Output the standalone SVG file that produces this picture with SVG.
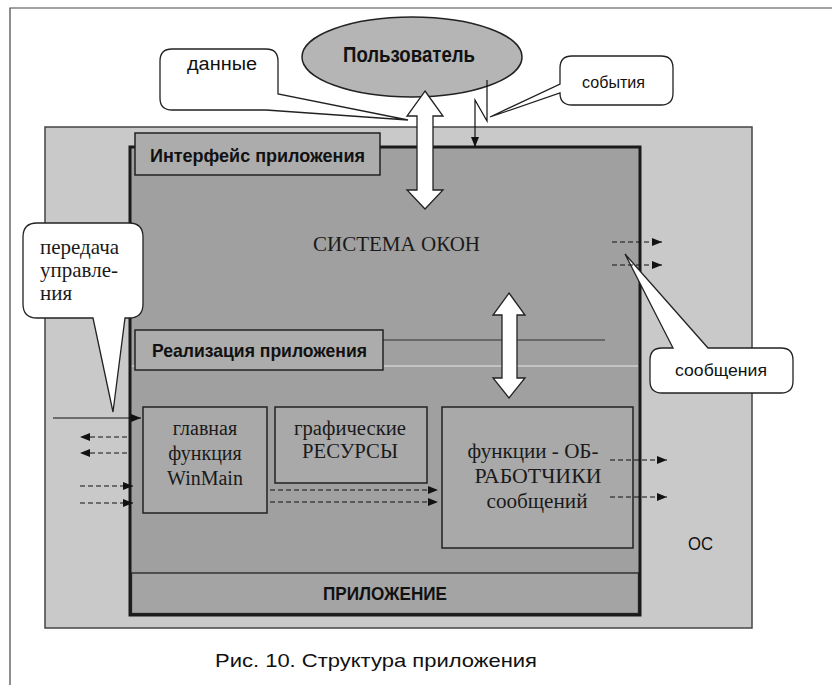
<svg xmlns="http://www.w3.org/2000/svg" width="832" height="685" viewBox="0 0 832 685">
<style>
.sans{font-family:"Liberation Sans",Arial,sans-serif;fill:#111}
.bold{font-weight:bold}
.serif{font-family:"Liberation Serif","Times New Roman",serif;fill:#1a1a1a}
.callout{fill:#fff;stroke:#222;stroke-width:1.3}
.box{fill:#a9a9a9;stroke:#222;stroke-width:1.5}
.dash{fill:none;stroke:#111;stroke-width:1.2;stroke-dasharray:5 3}
.solid{fill:none;stroke:#111;stroke-width:1.2}
.big{fill:#fff;stroke:#222;stroke-width:1.3}
</style>
<defs>
<marker id="ah" viewBox="0 0 10 8" refX="10" refY="4" markerWidth="10" markerHeight="8" markerUnits="userSpaceOnUse" orient="auto">
<path d="M0,0 L10,4 L0,8 Z" fill="#111"/>
</marker>
</defs>
<rect width="832" height="685" fill="#fff"/>
<path d="M10,685 V8 H832" fill="none" stroke="#444" stroke-width="1.2"/>

<g id="os">
<rect x="45" y="127" width="707" height="501" fill="#c9c9c9" stroke="#444" stroke-width="1.5"/>
<text class="sans" x="688" y="550" font-size="19" textLength="25" lengthAdjust="spacingAndGlyphs">ОС</text>
</g>

<g id="app">
<rect x="130" y="147" width="510" height="468" fill="#a0a0a0" stroke="#1a1a1a" stroke-width="3"/>
<line x1="383" y1="340" x2="605" y2="340" stroke="#333" stroke-width="1"/>
<line x1="132" y1="366" x2="638" y2="366" stroke="#e6e6e6" stroke-width="1"/>
<rect x="131.5" y="573" width="507" height="40.5" fill="#a4a4a4" stroke="#222" stroke-width="1.3"/>
<text class="sans bold" x="323" y="600" font-size="19" textLength="124" lengthAdjust="spacingAndGlyphs">ПРИЛОЖЕНИЕ</text>
<text class="serif" x="313" y="251" font-size="22" textLength="167" lengthAdjust="spacingAndGlyphs">СИСТЕМА ОКОН</text>
</g>

<g id="interface">
<rect x="135" y="133" width="245" height="42" fill="#acacac" stroke="#222" stroke-width="1.5"/>
<text class="sans bold" x="150" y="162" font-size="19" textLength="215" lengthAdjust="spacingAndGlyphs">Интерфейс приложения</text>
</g>

<g id="realization">
<rect x="135" y="330" width="248" height="40" fill="#acacac" stroke="#222" stroke-width="1.5"/>
<text class="sans bold" x="152" y="357" font-size="19" textLength="215" lengthAdjust="spacingAndGlyphs">Реализация приложения</text>
</g>

<g id="winmain">
<rect x="143" y="407" width="124" height="106" class="box"/>
<text class="serif" x="205" y="435" font-size="20" text-anchor="middle">главная</text>
<text class="serif" x="205" y="460" font-size="20" text-anchor="middle">функция</text>
<text class="serif" x="205" y="485" font-size="20" text-anchor="middle">WinMain</text>
</g>

<g id="resources">
<rect x="275" y="407" width="152" height="76" class="box"/>
<text class="serif" x="350" y="435" font-size="20" text-anchor="middle" textLength="112" lengthAdjust="spacingAndGlyphs">графические</text>
<text class="serif" x="350" y="458" font-size="20" text-anchor="middle" textLength="96" lengthAdjust="spacingAndGlyphs">РЕСУРСЫ</text>
</g>

<g id="handlers">
<rect x="442" y="407" width="191" height="141" class="box"/>
<text class="serif" x="533" y="458" font-size="20" text-anchor="middle" textLength="131" lengthAdjust="spacingAndGlyphs">функции - ОБ-</text>
<text class="serif" x="538" y="483" font-size="20" text-anchor="middle" textLength="127" lengthAdjust="spacingAndGlyphs">РАБОТЧИКИ</text>
<text class="serif" x="537" y="508" font-size="20" text-anchor="middle" textLength="101" lengthAdjust="spacingAndGlyphs">сообщений</text>
</g>

<g id="user">
<ellipse cx="412" cy="57" rx="110" ry="40" fill="#b5b5b5" stroke="#222" stroke-width="1.5"/>
<text class="sans bold" x="343" y="62" font-size="22" textLength="132" lengthAdjust="spacingAndGlyphs">Пользователь</text>
</g>

<g id="callout-data">
<path class="callout" d="M172,49 H266 Q278,49 278,61 V94 L408,120 L266,110 H172 Q160,110 160,98 V61 Q160,49 172,49 Z"/>
<text class="sans" x="187" y="70" font-size="18" textLength="70" lengthAdjust="spacingAndGlyphs">данные</text>
</g>

<g id="callout-events">
<path class="callout" d="M572,56 H661 Q673,56 673,68 V93 Q673,105 661,105 H572 Q560,105 560,93 L490,117 L560,84 V68 Q560,56 572,56 Z"/>
<text class="sans" x="582" y="88" font-size="17" textLength="63" lengthAdjust="spacingAndGlyphs">события</text>
</g>

<g id="callout-control">
<path class="callout" d="M37,223 H129 Q143,223 143,237 V304 Q143,318 129,318 H125 L113,412 L93,318 H37 Q23,318 23,304 V237 Q23,223 37,223 Z"/>
<text class="serif" x="40" y="254" font-size="21" fill="#111">передача</text>
<text class="serif" x="40" y="277" font-size="21" fill="#111">управле-</text>
<text class="serif" x="40" y="300" font-size="21" fill="#111">ния</text>
</g>

<g id="callout-messages">
<path class="callout" d="M662,348 H673 L625,254 L708,348 H781 Q793,348 793,360 V381 Q793,393 781,393 H662 Q650,393 650,381 V360 Q650,348 662,348 Z"/>
<text class="sans" x="675" y="376" font-size="17" textLength="92" lengthAdjust="spacingAndGlyphs">сообщения</text>
</g>

<g id="connectors">
<path class="big" d="M425,91 L443,116 L433,116 L433,190 L443,190 L425,209 L407,190 L417,190 L417,116 L407,116 Z"/>
<path class="big" d="M509,293 L525,315 L517,315 L517,378 L525,378 L509,398 L493,378 L502,378 L502,315 L493,315 Z"/>
<path class="solid" d="M487,80 V121 L475,100 V147" marker-end="url(#ah)"/>
<line class="solid" x1="53" y1="418" x2="141" y2="418" marker-end="url(#ah)"/>
<line class="dash" x1="127" y1="437" x2="80" y2="437" marker-end="url(#ah)"/>
<line class="dash" x1="127" y1="453" x2="80" y2="453" marker-end="url(#ah)"/>
<line class="dash" x1="80" y1="486" x2="133" y2="486" marker-end="url(#ah)"/>
<line class="dash" x1="80" y1="503" x2="133" y2="503" marker-end="url(#ah)"/>
<line class="dash" x1="270" y1="490" x2="438" y2="490" marker-end="url(#ah)"/>
<line class="dash" x1="270" y1="502" x2="438" y2="502" marker-end="url(#ah)"/>
<line class="dash" x1="610" y1="460" x2="667" y2="460" marker-end="url(#ah)"/>
<line class="dash" x1="610" y1="497" x2="667" y2="497" marker-end="url(#ah)"/>
<line class="dash" x1="612" y1="242" x2="662" y2="242" marker-end="url(#ah)"/>
<line class="dash" x1="612" y1="265" x2="662" y2="265" marker-end="url(#ah)"/>
</g>

<g id="caption">
<text class="sans" x="215" y="667" font-size="19" fill="#333" textLength="322" lengthAdjust="spacingAndGlyphs">Рис. 10. Структура приложения</text>
</g>
</svg>
